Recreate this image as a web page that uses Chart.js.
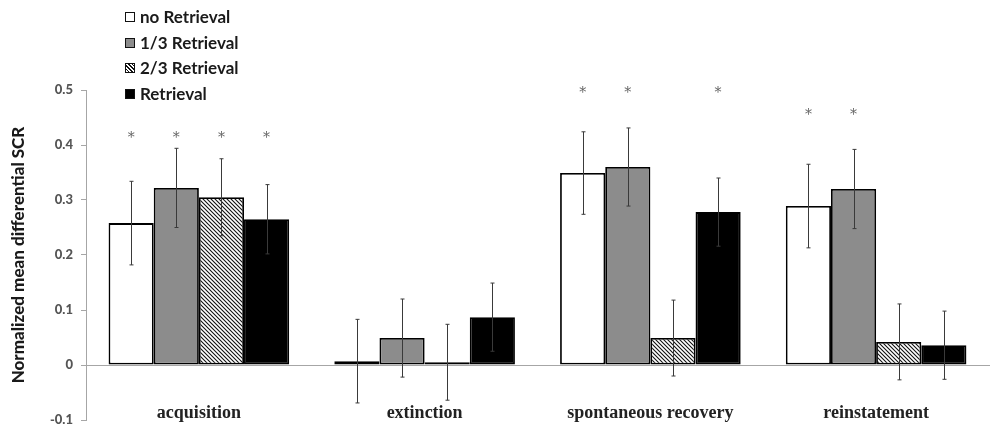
<!DOCTYPE html>
<html lang="en">
<head>
    <meta charset="UTF-8">
    <title>Normalized mean differential SCR</title>
    <script src="https://cdn.jsdelivr.net/npm/chart.js"></script>
    <style>
        html, body { margin: 0; padding: 0; background: #fff; }
        #wrap { position: relative; width: 1000px; height: 438px; }
        #legend {
            position: absolute; left: 125px; top: 4px;
            font-family: Lato, "Open Sans", sans-serif; font-weight: 700;
            font-size: 17px; color: #1a1a1a;
        }
        #legend div { height: 25.7px; line-height: 25.7px; display: flex; align-items: center; }
        #legend span.sw {
            display: inline-block; width: 8px; height: 8px;
            border: 1.5px solid #111; margin-right: 5px;
        }
    </style>
</head>
<body>
<div id="wrap">
    <canvas id="chart"></canvas>
    <div id="legend"></div>
</div>
<script>
    // categories
    const phases = ['acquisition', 'extinction', 'spontaneous recovery', 'reinstatement'];
    const groups = ['no Retrieval', '1/3 Retrieval', '2/3 Retrieval', 'Retrieval'];

    // means per group (same order as phases)
    const noRetrieval    = [0.258, 0.007, 0.349, 0.289];
    const oneThird       = [0.322, 0.049, 0.360, 0.320];
    const twoThirds      = [0.305, 0.005, 0.049, 0.042];
    const fullRetrieval  = [0.265, 0.087, 0.278, 0.036];

    // standard errors
    const noRetrievalErr   = [0.076, 0.076, 0.075, 0.076];
    const oneThirdErr      = [0.072, 0.071, 0.071, 0.072];
    const twoThirdsErr     = [0.070, 0.069, 0.069, 0.069];
    const fullRetrievalErr = [0.063, 0.062, 0.062, 0.062];

    // significance marks (* above the bar)
    const noRetrievalSig   = [true, false, true, true];
    const oneThirdSig      = [true, false, true, true];
    const twoThirdsSig     = [true, false, false, false];
    const fullRetrievalSig = [true, false, true, false];
    const starLevel = [0.418, null, 0.5, 0.46];

    const yTicks = [-0.1, 0, 0.1, 0.2, 0.3, 0.4, 0.5];

    // hatch pattern for 2/3 Retrieval
    function hatch() {
        const c = document.createElement('canvas');
        c.width = 4; c.height = 4;
        const g = c.getContext('2d');
        g.fillStyle = '#fff';
        g.fillRect(0, 0, 4, 4);
        g.strokeStyle = '#111';
        g.lineWidth = 1.1;
        g.beginPath();
        g.moveTo(-1, -1); g.lineTo(5, 5);
        g.moveTo(-1, 3); g.lineTo(1, 5);
        g.moveTo(3, -1); g.lineTo(5, 1);
        g.stroke();
        return g.createPattern(c, 'repeat');
    }

    const fills = ['#ffffff', '#8c8c8c', hatch(), '#000000'];
    const swatchCss = ['#fff', '#8c8c8c',
        'repeating-linear-gradient(45deg, #fff 0 1.5px, #111 1.5px 2.6px)', '#000'];

    const errorBars = {
        id: 'errorBars',
        afterDatasetsDraw(chart) {
            const ctx = chart.ctx;
            const y = chart.scales.y;
            ctx.save();
            ctx.strokeStyle = '#3a3a3a';
            ctx.lineWidth = 1;
            chart.data.datasets.forEach((ds, i) => {
                chart.getDatasetMeta(i).data.forEach((bar, j) => {
                    const v = ds.data[j], e = ds.err[j];
                    const top = y.getPixelForValue(v + e);
                    const bot = y.getPixelForValue(v - e);
                    const x = Math.round(bar.x) + 0.5;
                    ctx.beginPath();
                    ctx.moveTo(x, top); ctx.lineTo(x, bot);
                    ctx.moveTo(x - 2, top); ctx.lineTo(x + 2, top);
                    ctx.moveTo(x - 2, bot); ctx.lineTo(x + 2, bot);
                    ctx.stroke();
                });
            });
            ctx.fillStyle = '#666';
            ctx.font = '14px "DejaVu Serif", serif';
            ctx.textAlign = 'center';
            ctx.textBaseline = 'middle';
            chart.data.datasets.forEach((ds, i) => {
                chart.getDatasetMeta(i).data.forEach((bar, j) => {
                    if (ds.sig[j] && starLevel[j] !== null) {
                        ctx.fillText('*', bar.x, y.getPixelForValue(starLevel[j]) + 3);
                    }
                });
            });
            ctx.restore();
        }
    };

    const series = [noRetrieval, oneThird, twoThirds, fullRetrieval];
    const errs = [noRetrievalErr, oneThirdErr, twoThirdsErr, fullRetrievalErr];
    const sigs = [noRetrievalSig, oneThirdSig, twoThirdsSig, fullRetrievalSig];

    const datasets = groups.map((g, i) => ({
        label: g,
        data: series[i],
        err: errs[i],
        sig: sigs[i],
        backgroundColor: fills[i],
        borderColor: '#000',
        borderWidth: 1.8,
        borderSkipped: false,
        barPercentage: 1,
        categoryPercentage: 0.8
    }));

    // html legend
    const legend = document.getElementById('legend');
    groups.forEach((g, i) => {
        const row = document.createElement('div');
        const sw = document.createElement('span');
        sw.className = 'sw';
        sw.style.background = swatchCss[i];
        row.appendChild(sw);
        row.appendChild(document.createTextNode(g));
        legend.appendChild(row);
    });

    new Chart(document.getElementById('chart'), {
        type: 'bar',
        data: { labels: phases, datasets: datasets },
        options: {
            responsive: true,
            maintainAspectRatio: false,
            animation: false,
            layout: { padding: { top: 90, right: 11, bottom: 18, left: 0 } },
            plugins: {
                legend: { display: false },
                tooltip: { enabled: false }
            },
            scales: {
                x: {
                    position: { y: 0 },
                    grid: { display: false, drawTicks: false },
                    border: { display: true, color: '#a6a6a6', width: 1 },
                    ticks: {
                        padding: 38,
                        color: '#222',
                        font: { family: '"Liberation Serif", serif', size: 18, weight: 'bold' }
                    }
                },
                y: {
                    min: -0.1,
                    max: 0.5,
                    afterBuildTicks: (s) => { s.ticks = yTicks.map(v => ({ value: v })); },
                    afterFit: (s) => { s.width = 86; },
                    grid: { drawOnChartArea: false, drawTicks: true, tickLength: 5, color: '#a6a6a6' },
                    border: { display: true, color: '#a6a6a6', width: 1 },
                    ticks: {
                        padding: 8,
                        color: '#555',
                        font: { family: 'Lato, sans-serif', size: 13, weight: '900' },
                        callback: (v) => (Math.round(v * 10) / 10).toString()
                    },
                    title: {
                        display: true,
                        text: 'Normalized mean differential SCR',
                        color: '#1a1a1a',
                        padding: { top: 8, bottom: 4 },
                        font: { family: 'Lato, sans-serif', size: 17, weight: '900' }
                    }
                }
            }
        },
        plugins: [errorBars]
    });
</script>
</body>
</html>
